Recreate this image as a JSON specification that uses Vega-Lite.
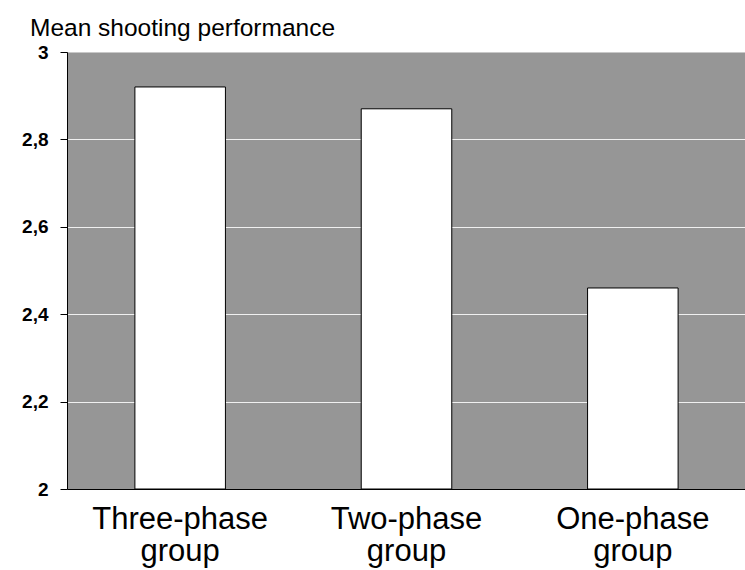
{
  "$schema": "https://vega.github.io/schema/vega-lite/v6.json",
  "autosize": "none",
  "width": 679,
  "height": 437,
  "padding": {"left": 67, "top": 52, "right": 0, "bottom": 81},
  "background": "white",
  "config": {
    "font": "Liberation Sans",
    "view": {"fill": "#969696", "stroke": null}
  },
  "title": {
    "text": "Mean shooting performance",
    "anchor": "start",
    "frame": "group",
    "dx": -37,
    "offset": -17,
    "baseline": "alphabetic",
    "fontSize": 24.5,
    "fontWeight": "normal",
    "color": "black",
    "font": "Liberation Sans"
  },
  "data": {
    "values": [
      {"group": "Three-phase group", "mean": 2.92, "base": 2},
      {"group": "Two-phase group", "mean": 2.87, "base": 2},
      {"group": "One-phase group", "mean": 2.46, "base": 2}
    ]
  },
  "mark": {"type": "bar", "fill": "white", "stroke": "black", "strokeWidth": 1},
  "encoding": {
    "x": {
      "field": "group",
      "type": "nominal",
      "sort": null,
      "scale": {"paddingInner": 0.6, "paddingOuter": 0.3},
      "axis": {
        "title": null,
        "labelAngle": 0,
        "ticks": false,
        "domainColor": "black",
        "domainWidth": 1,
        "labelFontSize": 31,
        "labelColor": "black",
        "labelFont": "Liberation Sans",
        "labelExpr": "split(datum.label, ' ')",
        "labelLineHeight": 32,
        "labelPadding": 15,
        "labelBaseline": "top"
      }
    },
    "y": {
      "field": "mean",
      "type": "quantitative",
      "scale": {"domain": [2, 3], "zero": false, "nice": false},
      "axis": {
        "title": null,
        "values": [2, 2.2, 2.4, 2.6, 2.8, 3],
        "labelExpr": "replace(format(datum.value, '.1~f'), '.', ',')",
        "labelFontSize": 19,
        "labelFontWeight": "bold",
        "labelColor": "black",
        "labelFont": "Liberation Sans",
        "labelPadding": 12,
        "tickColor": "black",
        "tickSize": 7,
        "domainColor": "black",
        "grid": true,
        "gridColor": {"condition": {"test": "datum.value >= 3", "value": "#c8c8c8"}, "value": "#f0f0f0"},
        "gridWidth": 1
      }
    },
    "y2": {"field": "base"}
  }
}
